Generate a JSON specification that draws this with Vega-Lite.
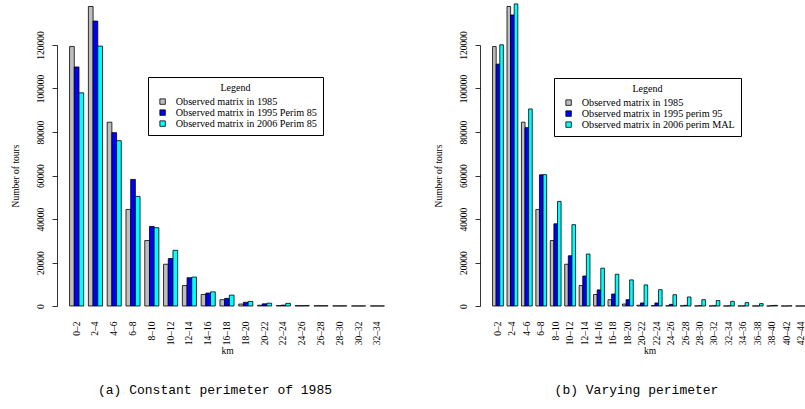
{
  "$schema": "https://vega.github.io/schema/vega-lite/v6.json",
  "padding": {"left": 10, "top": 3, "right": 0, "bottom": 5},
  "spacing": 36,
  "resolve": {
    "scale": {"color": "independent", "xOffset": "independent", "x": "independent", "y": "independent"},
    "legend": {"color": "independent"}
  },
  "config": {
    "font": "Liberation Serif",
    "view": {"stroke": null},
    "axis": {
      "grid": false,
      "domainColor": "black",
      "tickColor": "black",
      "labelColor": "black",
      "titleColor": "black",
      "labelFont": "Liberation Serif",
      "titleFont": "Liberation Serif",
      "labelFontSize": 9.5,
      "titleFontSize": 9.5,
      "titleFontWeight": "normal",
      "domainWidth": 0.8,
      "tickWidth": 0.8
    },
    "legend": {
      "orient": "none",
      "strokeColor": "black",
      "fillColor": "white",
      "padding": 5.5,
      "symbolOffset": 4,
      "symbolType": "square",
      "symbolSize": 30,
      "symbolStrokeColor": "black",
      "symbolStrokeWidth": 0.8,
      "labelFont": "Liberation Serif",
      "labelFontSize": 10.2,
      "labelColor": "black",
      "labelOffset": 8,
      "titleFont": "Liberation Serif",
      "titleFontSize": 10,
      "titleFontWeight": "normal",
      "titleColor": "black",
      "titleAnchor": "middle",
      "titlePadding": 4,
      "rowPadding": 0
    },
    "title": {"font": "Liberation Mono", "fontSize": 13, "fontWeight": "normal", "color": "black"}
  },
  "datasets": {
    "left": [
      {"km": "0–2", "series": "Observed matrix in 1985", "tours": 119300},
      {"km": "0–2", "series": "Observed matrix in 1995 Perim 85", "tours": 109900},
      {"km": "0–2", "series": "Observed matrix in 2006 Perim 85", "tours": 98000},
      {"km": "2–4", "series": "Observed matrix in 1985", "tours": 137700},
      {"km": "2–4", "series": "Observed matrix in 1995 Perim 85", "tours": 131000},
      {"km": "2–4", "series": "Observed matrix in 2006 Perim 85", "tours": 119500},
      {"km": "4–6", "series": "Observed matrix in 1985", "tours": 84500},
      {"km": "4–6", "series": "Observed matrix in 1995 Perim 85", "tours": 79700},
      {"km": "4–6", "series": "Observed matrix in 2006 Perim 85", "tours": 76000},
      {"km": "6–8", "series": "Observed matrix in 1985", "tours": 44400},
      {"km": "6–8", "series": "Observed matrix in 1995 Perim 85", "tours": 58200},
      {"km": "6–8", "series": "Observed matrix in 2006 Perim 85", "tours": 50400},
      {"km": "8–10", "series": "Observed matrix in 1985", "tours": 30100},
      {"km": "8–10", "series": "Observed matrix in 1995 Perim 85", "tours": 36600},
      {"km": "8–10", "series": "Observed matrix in 2006 Perim 85", "tours": 36000},
      {"km": "10–12", "series": "Observed matrix in 1985", "tours": 19200},
      {"km": "10–12", "series": "Observed matrix in 1995 Perim 85", "tours": 21800},
      {"km": "10–12", "series": "Observed matrix in 2006 Perim 85", "tours": 25600},
      {"km": "12–14", "series": "Observed matrix in 1985", "tours": 9400},
      {"km": "12–14", "series": "Observed matrix in 1995 Perim 85", "tours": 13000},
      {"km": "12–14", "series": "Observed matrix in 2006 Perim 85", "tours": 13300},
      {"km": "14–16", "series": "Observed matrix in 1985", "tours": 5300},
      {"km": "14–16", "series": "Observed matrix in 1995 Perim 85", "tours": 5950},
      {"km": "14–16", "series": "Observed matrix in 2006 Perim 85", "tours": 6500},
      {"km": "16–18", "series": "Observed matrix in 1985", "tours": 2900},
      {"km": "16–18", "series": "Observed matrix in 1995 Perim 85", "tours": 3500},
      {"km": "16–18", "series": "Observed matrix in 2006 Perim 85", "tours": 5000},
      {"km": "18–20", "series": "Observed matrix in 1985", "tours": 900},
      {"km": "18–20", "series": "Observed matrix in 1995 Perim 85", "tours": 1700},
      {"km": "18–20", "series": "Observed matrix in 2006 Perim 85", "tours": 2100},
      {"km": "20–22", "series": "Observed matrix in 1985", "tours": 350},
      {"km": "20–22", "series": "Observed matrix in 1995 Perim 85", "tours": 1000},
      {"km": "20–22", "series": "Observed matrix in 2006 Perim 85", "tours": 1300},
      {"km": "22–24", "series": "Observed matrix in 1985", "tours": 200},
      {"km": "22–24", "series": "Observed matrix in 1995 Perim 85", "tours": 400},
      {"km": "22–24", "series": "Observed matrix in 2006 Perim 85", "tours": 1200},
      {"km": "24–26", "series": "Observed matrix in 1985", "tours": 150},
      {"km": "24–26", "series": "Observed matrix in 1995 Perim 85", "tours": 150},
      {"km": "24–26", "series": "Observed matrix in 2006 Perim 85", "tours": 250},
      {"km": "26–28", "series": "Observed matrix in 1985", "tours": 100},
      {"km": "26–28", "series": "Observed matrix in 1995 Perim 85", "tours": 100},
      {"km": "26–28", "series": "Observed matrix in 2006 Perim 85", "tours": 150},
      {"km": "28–30", "series": "Observed matrix in 1985", "tours": 50},
      {"km": "28–30", "series": "Observed matrix in 1995 Perim 85", "tours": 50},
      {"km": "28–30", "series": "Observed matrix in 2006 Perim 85", "tours": 80},
      {"km": "30–32", "series": "Observed matrix in 1985", "tours": 30},
      {"km": "30–32", "series": "Observed matrix in 1995 Perim 85", "tours": 30},
      {"km": "30–32", "series": "Observed matrix in 2006 Perim 85", "tours": 50},
      {"km": "32–34", "series": "Observed matrix in 1985", "tours": 20},
      {"km": "32–34", "series": "Observed matrix in 1995 Perim 85", "tours": 20},
      {"km": "32–34", "series": "Observed matrix in 2006 Perim 85", "tours": 30}
    ],
    "right": [
      {"km": "0–2", "series": "Observed matrix in 1985", "tours": 119300},
      {"km": "0–2", "series": "Observed matrix in 1995 perim 95", "tours": 111200},
      {"km": "0–2", "series": "Observed matrix in 2006 perim MAL", "tours": 120100},
      {"km": "2–4", "series": "Observed matrix in 1985", "tours": 137700},
      {"km": "2–4", "series": "Observed matrix in 1995 perim 95", "tours": 133800},
      {"km": "2–4", "series": "Observed matrix in 2006 perim MAL", "tours": 138900},
      {"km": "4–6", "series": "Observed matrix in 1985", "tours": 84500},
      {"km": "4–6", "series": "Observed matrix in 1995 perim 95", "tours": 82000},
      {"km": "4–6", "series": "Observed matrix in 2006 perim MAL", "tours": 90600},
      {"km": "6–8", "series": "Observed matrix in 1985", "tours": 44400},
      {"km": "6–8", "series": "Observed matrix in 1995 perim 95", "tours": 60300},
      {"km": "6–8", "series": "Observed matrix in 2006 perim MAL", "tours": 60400},
      {"km": "8–10", "series": "Observed matrix in 1985", "tours": 30100},
      {"km": "8–10", "series": "Observed matrix in 1995 perim 95", "tours": 37800},
      {"km": "8–10", "series": "Observed matrix in 2006 perim MAL", "tours": 48100},
      {"km": "10–12", "series": "Observed matrix in 1985", "tours": 19200},
      {"km": "10–12", "series": "Observed matrix in 1995 perim 95", "tours": 23100},
      {"km": "10–12", "series": "Observed matrix in 2006 perim MAL", "tours": 37400},
      {"km": "12–14", "series": "Observed matrix in 1985", "tours": 9400},
      {"km": "12–14", "series": "Observed matrix in 1995 perim 95", "tours": 13800},
      {"km": "12–14", "series": "Observed matrix in 2006 perim MAL", "tours": 23900},
      {"km": "14–16", "series": "Observed matrix in 1985", "tours": 5300},
      {"km": "14–16", "series": "Observed matrix in 1995 perim 95", "tours": 7400},
      {"km": "14–16", "series": "Observed matrix in 2006 perim MAL", "tours": 17400},
      {"km": "16–18", "series": "Observed matrix in 1985", "tours": 2900},
      {"km": "16–18", "series": "Observed matrix in 1995 perim 95", "tours": 5500},
      {"km": "16–18", "series": "Observed matrix in 2006 perim MAL", "tours": 14600},
      {"km": "18–20", "series": "Observed matrix in 1985", "tours": 900},
      {"km": "18–20", "series": "Observed matrix in 1995 perim 95", "tours": 2900},
      {"km": "18–20", "series": "Observed matrix in 2006 perim MAL", "tours": 12000},
      {"km": "20–22", "series": "Observed matrix in 1985", "tours": 350},
      {"km": "20–22", "series": "Observed matrix in 1995 perim 95", "tours": 1400},
      {"km": "20–22", "series": "Observed matrix in 2006 perim MAL", "tours": 9700},
      {"km": "22–24", "series": "Observed matrix in 1985", "tours": 200},
      {"km": "22–24", "series": "Observed matrix in 1995 perim 95", "tours": 1400},
      {"km": "22–24", "series": "Observed matrix in 2006 perim MAL", "tours": 7500},
      {"km": "24–26", "series": "Observed matrix in 1985", "tours": 150},
      {"km": "24–26", "series": "Observed matrix in 1995 perim 95", "tours": 750},
      {"km": "24–26", "series": "Observed matrix in 2006 perim MAL", "tours": 5200},
      {"km": "26–28", "series": "Observed matrix in 1985", "tours": 100},
      {"km": "26–28", "series": "Observed matrix in 1995 perim 95", "tours": 300},
      {"km": "26–28", "series": "Observed matrix in 2006 perim MAL", "tours": 4150},
      {"km": "28–30", "series": "Observed matrix in 1985", "tours": 50},
      {"km": "28–30", "series": "Observed matrix in 1995 perim 95", "tours": 150},
      {"km": "28–30", "series": "Observed matrix in 2006 perim MAL", "tours": 2900},
      {"km": "30–32", "series": "Observed matrix in 1985", "tours": 30},
      {"km": "30–32", "series": "Observed matrix in 1995 perim 95", "tours": 100},
      {"km": "30–32", "series": "Observed matrix in 2006 perim MAL", "tours": 2500},
      {"km": "32–34", "series": "Observed matrix in 1985", "tours": 20},
      {"km": "32–34", "series": "Observed matrix in 1995 perim 95", "tours": 60},
      {"km": "32–34", "series": "Observed matrix in 2006 perim MAL", "tours": 2150},
      {"km": "34–36", "series": "Observed matrix in 1985", "tours": 10},
      {"km": "34–36", "series": "Observed matrix in 1995 perim 95", "tours": 40},
      {"km": "34–36", "series": "Observed matrix in 2006 perim MAL", "tours": 1550},
      {"km": "36–38", "series": "Observed matrix in 1985", "tours": 5},
      {"km": "36–38", "series": "Observed matrix in 1995 perim 95", "tours": 30},
      {"km": "36–38", "series": "Observed matrix in 2006 perim MAL", "tours": 1100},
      {"km": "38–40", "series": "Observed matrix in 1985", "tours": 0},
      {"km": "38–40", "series": "Observed matrix in 1995 perim 95", "tours": 200},
      {"km": "38–40", "series": "Observed matrix in 2006 perim MAL", "tours": 300},
      {"km": "40–42", "series": "Observed matrix in 1985", "tours": 0},
      {"km": "40–42", "series": "Observed matrix in 1995 perim 95", "tours": 0},
      {"km": "40–42", "series": "Observed matrix in 2006 perim MAL", "tours": 100},
      {"km": "42–44", "series": "Observed matrix in 1985", "tours": 0},
      {"km": "42–44", "series": "Observed matrix in 1995 perim 95", "tours": 0},
      {"km": "42–44", "series": "Observed matrix in 2006 perim MAL", "tours": 50}
    ]
  },
  "hconcat": [
    {
      "data": {"name": "left"},
      "width": 340,
      "height": 261,
      "title": {"text": "(a) Constant perimeter of 1985", "orient": "bottom", "anchor": "middle", "offset": 29, "dx": -12},
      "mark": {"type": "bar", "stroke": "black", "strokeWidth": 0.8},
      "encoding": {
        "x": {
          "field": "km", "type": "ordinal", "sort": null,
          "scale": {"paddingInner": 0.25, "paddingOuter": 0.67},
          "axis": {"title": "km", "labelAngle": -90, "labelAlign": "right", "labelBaseline": "middle", "ticks": false, "domain": false, "labelPadding": 15, "titlePadding": 1}
        },
        "xOffset": {"field": "series", "type": "nominal", "sort": ["Observed matrix in 1985", "Observed matrix in 1995 Perim 85", "Observed matrix in 2006 Perim 85"], "scale": {"paddingInner": 0, "paddingOuter": 0}},
        "y": {
          "field": "tours", "type": "quantitative",
          "scale": {"domain": [0, 120000], "nice": false},
          "axis": {"title": "Number of tours", "values": [0, 20000, 40000, 60000, 80000, 100000, 120000], "format": "d", "labelAngle": -90, "labelAlign": "center", "labelBaseline": "bottom", "labelPadding": 7, "tickSize": 5, "titlePadding": 15}
        },
        "color": {
          "field": "series", "type": "nominal",
          "scale": {"domain": ["Observed matrix in 1985", "Observed matrix in 1995 Perim 85", "Observed matrix in 2006 Perim 85"], "range": ["#BEBEBE", "#0000FF", "#00FFFF"]},
          "legend": {"title": "Legend", "legendX": 91, "legendY": 32}
        }
      }
    },
    {
      "data": {"name": "right"},
      "width": 339,
      "height": 261,
      "title": {"text": "(b) Varying perimeter", "orient": "bottom", "anchor": "middle", "offset": 29, "dx": -13},
      "mark": {"type": "bar", "stroke": "black", "strokeWidth": 0.8},
      "encoding": {
        "x": {
          "field": "km", "type": "ordinal", "sort": null,
          "scale": {"paddingInner": 0.25, "paddingOuter": 0.87},
          "axis": {"title": "km", "labelAngle": -90, "labelAlign": "right", "labelBaseline": "middle", "ticks": false, "domain": false, "labelPadding": 15, "titlePadding": 1}
        },
        "xOffset": {"field": "series", "type": "nominal", "sort": ["Observed matrix in 1985", "Observed matrix in 1995 perim 95", "Observed matrix in 2006 perim MAL"], "scale": {"paddingInner": 0, "paddingOuter": 0}},
        "y": {
          "field": "tours", "type": "quantitative",
          "scale": {"domain": [0, 120000], "nice": false},
          "axis": {"title": "Number of tours", "values": [0, 20000, 40000, 60000, 80000, 100000, 120000], "format": "d", "labelAngle": -90, "labelAlign": "center", "labelBaseline": "bottom", "labelPadding": 7, "tickSize": 5, "titlePadding": 15}
        },
        "color": {
          "field": "series", "type": "nominal",
          "scale": {"domain": ["Observed matrix in 1985", "Observed matrix in 1995 perim 95", "Observed matrix in 2006 perim MAL"], "range": ["#BEBEBE", "#0000FF", "#00FFFF"]},
          "legend": {"title": "Legend", "legendX": 74, "legendY": 33}
        }
      }
    }
  ]
}
